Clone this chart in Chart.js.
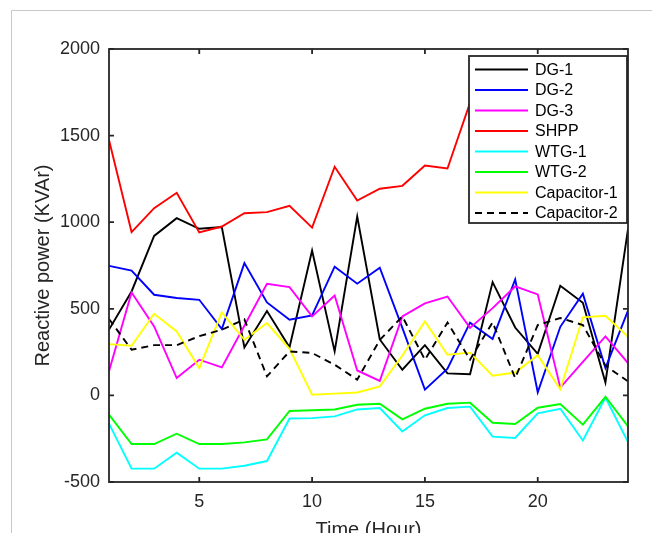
<!DOCTYPE html>
<html lang="en">
<head>
  <meta charset="UTF-8" />
  <title>Reactive power</title>
  <script src="https://cdn.jsdelivr.net/npm/chart.js"></script>
  <style>
    html, body { margin: 0; padding: 0; background: #fff; }
    canvas { display: block; }
  </style>
</head>
<body>

  <canvas id="graphique" width="652" height="533"></canvas>

  <script>
    // values
    const hours = [1, 2, 3, 4, 5, 6, 7, 8, 9, 10, 11, 12, 13, 14, 15, 16, 17, 18, 19, 20, 21, 22, 23, 24];
    const xTicks = [5, 10, 15, 20];
    const yTicks = [-500, 0, 500, 1000, 1500, 2000];

    const dg1 = [380, 600, 921, 1023, 962, 972, 277, 487, 278, 837, 254, 1033, 323, 148, 290, 127, 122, 654, 392, 240, 633, 535, 75, 960];
    const dg2 = [748, 720, 581, 562, 552, 383, 764, 537, 437, 462, 743, 645, 737, 390, 33, 154, 420, 326, 670, 18, 396, 587, 158, 490];
    const dg3 = [139, 594, 398, 100, 206, 162, 402, 644, 625, 456, 577, 144, 84, 456, 531, 571, 390, 504, 629, 583, 45, 193, 341, 187];
    const shpp = [1475, 943, 1081, 1170, 941, 975, 1052, 1058, 1095, 969, 1320, 1125, 1193, 1210, 1327, 1310, 1690, 1760, 1820, 1700, 1780, 1850, 1720, 1055];
    const wtg1 = [-163, -423, -423, -331, -423, -423, -406, -379, -133, -131, -121, -81, -73, -208, -115, -73, -65, -238, -246, -104, -77, -260, -12, -269];
    const wtg2 = [-111, -281, -281, -221, -281, -281, -271, -254, -90, -86, -81, -54, -48, -138, -77, -48, -42, -158, -165, -71, -50, -169, -8, -179];
    const cap1 = [296, 287, 471, 369, 158, 479, 321, 418, 269, 4, 10, 17, 52, 230, 427, 235, 247, 114, 132, 232, 35, 451, 460, 339];
    const cap2 = [441, 264, 290, 290, 342, 379, 439, 110, 254, 245, 177, 91, 320, 456, 206, 421, 206, 422, 100, 406, 447, 406, 172, 81];

    const series = [
      { label: 'DG-1', data: dg1, color: '#000000' },
      { label: 'DG-2', data: dg2, color: '#0000ff' },
      { label: 'DG-3', data: dg3, color: '#ff00ff' },
      { label: 'SHPP', data: shpp, color: '#ff0000' },
      { label: 'WTG-1', data: wtg1, color: '#00ffff' },
      { label: 'WTG-2', data: wtg2, color: '#00ff00' },
      { label: 'Capacitor-1', data: cap1, color: '#ffff00' },
      { label: 'Capacitor-2', data: cap2, color: '#000000', dash: [7, 5] }
    ];

    const FONT = "'Liberation Sans', Arial, sans-serif";
    const AXIS = '#262626';

    // grey frame of the figure + white background
    const cadre = {
      id: 'cadre',
      beforeDraw(chart) {
        const c = chart.ctx;
        c.save();
        c.fillStyle = '#fff';
        c.fillRect(0, 0, chart.width, chart.height);
        c.strokeStyle = '#c8c8c8';
        c.lineWidth = 1;
        c.beginPath();
        c.moveTo(11.5, chart.height);
        c.lineTo(11.5, 10.5);
        c.lineTo(chart.width, 10.5);
        c.stroke();
        c.restore();
      }
    };

    // matlab style box with ticks pointing inside
    const boite = {
      id: 'boite',
      afterDatasetsDraw(chart) {
        const c = chart.ctx;
        const a = chart.chartArea;
        const x = chart.scales.x, y = chart.scales.y;
        const len = 5;
        c.save();
        c.strokeStyle = AXIS;
        c.lineWidth = 1.8;
        c.strokeRect(a.left, a.top, a.right - a.left, a.bottom - a.top);
        c.beginPath();
        x.ticks.forEach(t => {
          const px = x.getPixelForValue(t.value);
          c.moveTo(px, a.bottom); c.lineTo(px, a.bottom - len);
          c.moveTo(px, a.top); c.lineTo(px, a.top + len);
        });
        y.ticks.forEach(t => {
          const py = y.getPixelForValue(t.value);
          c.moveTo(a.left, py); c.lineTo(a.left + len, py);
          c.moveTo(a.right, py); c.lineTo(a.right - len, py);
        });
        c.stroke();
        c.restore();
      }
    };

    // legend box in the upper right corner
    const legende = {
      id: 'legende',
      afterDraw(chart) {
        const c = chart.ctx;
        const a = chart.chartArea;
        const right = a.right - 1, top = 56, width = 158, rowH = 20.5;
        const left = right - width;
        const height = rowH * chart.data.datasets.length + 3;
        c.save();
        c.fillStyle = '#fff';
        c.fillRect(left, top, width, height);
        c.strokeStyle = AXIS;
        c.lineWidth = 1.8;
        c.strokeRect(left, top, width, height);
        c.font = '16px ' + FONT;
        c.textBaseline = 'middle';
        chart.data.datasets.forEach((ds, i) => {
          const yy = top + 13.5 + i * rowH;
          c.strokeStyle = ds.borderColor;
          c.lineWidth = 2;
          c.setLineDash(ds.borderDash || []);
          c.beginPath();
          c.moveTo(left + 6, yy);
          c.lineTo(left + 59, yy);
          c.stroke();
          c.setLineDash([]);
          c.fillStyle = '#000';
          c.fillText(ds.label, left + 66, yy + 1);
        });
        c.restore();
      }
    };

    const ctx = document.getElementById('graphique').getContext('2d');

    const chart = new Chart(ctx, {
      type: 'line',
      data: {
        labels: hours,
        datasets: series.map((s, i) => ({
          label: s.label,
          data: s.data,
          borderColor: s.color,
          backgroundColor: s.color,
          borderWidth: 1.9,
          borderDash: s.dash || [],
          pointRadius: 0,
          tension: 0,
          fill: false,
          order: series.length - i
        }))
      },
      options: {
        responsive: false,
        animation: false,
        layout: { padding: { left: 0, top: 49, right: 24, bottom: 0 } },
        scales: {
          x: {
            type: 'linear',
            min: 1,
            max: 24,
            grid: { display: false, drawTicks: false },
            border: { display: false },
            afterBuildTicks: s => { s.ticks = xTicks.map(v => ({ value: v })); },
            afterFit: s => { s.height = 51; },
            ticks: {
              color: AXIS, padding: 9, font: { family: FONT, size: 18 },
              callback: v => String(v)
            },
            title: {
              display: true,
              text: 'Time (Hour)',
              color: AXIS,
              padding: { top: 0, bottom: -9 },
              font: { family: FONT, size: 20 }
            }
          },
          y: {
            min: -500,
            max: 2000,
            grid: { display: false, drawTicks: false },
            border: { display: false },
            afterBuildTicks: s => { s.ticks = yTicks.map(v => ({ value: v })); },
            afterFit: s => { s.width = 109; },
            ticks: {
              color: AXIS, padding: 9, font: { family: FONT, size: 18 },
              callback: v => String(v)
            },
            title: {
              display: true,
              text: 'Reactive power (KVAr)',
              color: AXIS,
              padding: { top: 31, bottom: 0 },
              font: { family: FONT, size: 20 }
            }
          }
        },
        plugins: {
          legend: { display: false },
          tooltip: { enabled: false }
        }
      },
      plugins: [cadre, boite, legende]
    });
  </script>

</body>
</html>
